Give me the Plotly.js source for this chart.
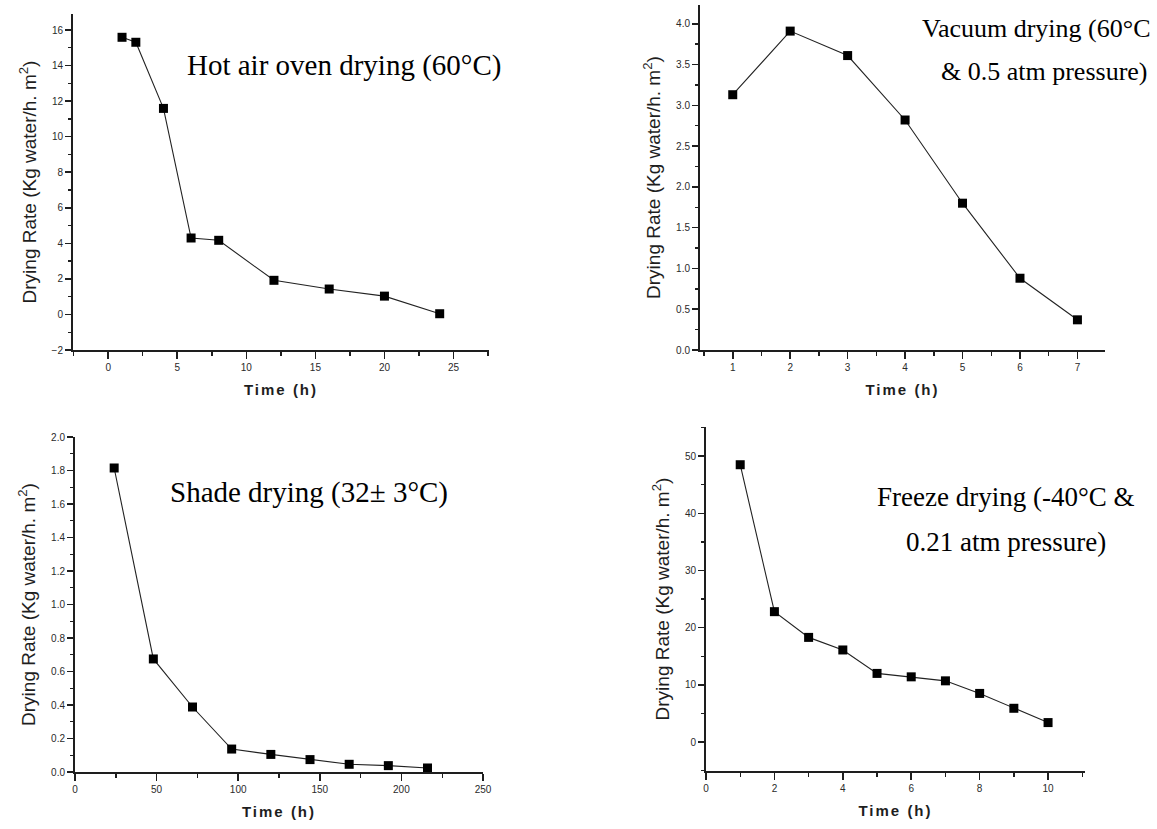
<!DOCTYPE html>
<html>
<head>
<meta charset="utf-8">
<script src="https://cdn.plot.ly/plotly-3.0.1.min.js"></script>
<style>
  html, body { margin: 0; padding: 0; background: #fff; }
  #chart { width: 1157px; height: 829px; }
  text.xtitle, text.x2title, text.x3title, text.x4title { letter-spacing: 2px; }
</style>
</head>
<body>
<div id="chart"></div>
<script>
// ---- Data ----
const hotTime = [1, 2, 4, 6, 8, 12, 16, 20, 24];
const hotRate = [15.59, 15.31, 11.59, 4.30, 4.17, 1.92, 1.43, 1.03, 0.04];

const vacuumTime = [1, 2, 3, 4, 5, 6, 7];
const vacuumRate = [3.13, 3.91, 3.61, 2.82, 1.80, 0.88, 0.37];

const shadeTime = [24, 48, 72, 96, 120, 144, 168, 192, 216];
const shadeRate = [1.815, 0.675, 0.388, 0.137, 0.105, 0.074, 0.046, 0.038, 0.024];

const freezeTime = [1, 2, 3, 4, 5, 6, 7, 8, 9, 10];
const freezeRate = [48.5, 22.8, 18.3, 16.1, 12.0, 11.4, 10.7, 8.5, 5.9, 3.4];

const panelLabels = [
  ["Hot air oven drying (60°C)"],
  ["Vacuum drying (60°C", "& 0.5 atm pressure)"],
  ["Shade drying (32± 3°C)"],
  ["Freeze drying (-40°C &", "0.21 atm pressure)"]
];
const xTitle = "Time (h)";
const yTitle = "Drying Rate (Kg water/h. m<sup>2</sup>)";

// ---- Styling ----
const W = 1157, H = 829;
const sans = "Liberation Sans, Arial, sans-serif";
const serif = "Liberation Serif, Times New Roman, serif";
const ink = "#1e1e1e";

function trace(x, y, ax) {
  return {
    x: x, y: y, xaxis: "x" + ax, yaxis: "y" + ax,
    type: "scatter", mode: "lines+markers",
    line: { color: "#222", width: 1.1 },
    marker: { symbol: "square", size: 9, color: "#000" },
    showlegend: false, hoverinfo: "x+y"
  };
}

function xAxis(domain, range, dtick, anchor, standoff) {
  return {
    domain: domain, range: range, anchor: anchor,
    showgrid: false, zeroline: false,
    showline: true, linecolor: ink, linewidth: 2,
    ticks: "outside", ticklen: 7, tickwidth: 1.6, tickcolor: ink,
    dtick: dtick, tick0: 0,
    minor: { ticks: "outside", ticklen: 4, tickwidth: 1.4, tickcolor: ink, dtick: dtick / 2, tick0: 0 },
    tickfont: { family: sans, size: 10, color: "#2a2a2a" },
    title: { text: xTitle, font: { family: sans, size: 15, color: ink, weight: "bold" }, standoff: standoff }
  };
}

function yAxis(domain, range, dtick, anchor, fmt, standoff) {
  return {
    domain: domain, range: range, anchor: anchor,
    showgrid: false, zeroline: false,
    showline: true, linecolor: ink, linewidth: 2,
    ticks: "outside", ticklen: 6, tickwidth: 1.6, tickcolor: ink,
    dtick: dtick, tick0: 0, tickformat: fmt,
    minor: { ticks: "outside", ticklen: 3, tickwidth: 1.4, tickcolor: ink, dtick: dtick / 2, tick0: 0 },
    tickfont: { family: sans, size: 10, color: "#2a2a2a" },
    title: { text: yTitle, font: { family: sans, size: 19, color: ink }, standoff: standoff }
  };
}

function px(x) { return x / W; }
function py(y) { return 1 - y / H; }

const data = [
  trace(hotTime, hotRate, ""),
  trace(vacuumTime, vacuumRate, "2"),
  trace(shadeTime, shadeRate, "3"),
  trace(freezeTime, freezeRate, "4")
];
data[0].xaxis = "x"; data[0].yaxis = "y";

function label(text, x, y, size, xanchor) {
  return {
    text: text, xref: "paper", yref: "paper", x: px(x), y: py(y),
    xanchor: xanchor, yanchor: "middle", showarrow: false,
    font: { family: serif, size: size, color: "#000" }
  };
}

const layout = {
  width: W, height: H,
  margin: { l: 0, r: 0, t: 0, b: 0 },
  paper_bgcolor: "#fff", plot_bgcolor: "#fff",
  xaxis:  xAxis([px(73), px(489)],  [-2.55, 27.57], 5,   "y",  12),
  yaxis:  yAxis([py(350), py(14)],  [-2, 16.9],     2,   "x",  "d",   10),
  xaxis2: xAxis([px(700), px(1105)], [0.43, 7.48],  1,   "y2", 12),
  yaxis2: yAxis([py(350), py(5)],   [0, 4.23],      0.5, "x2", ".1f", 10),
  xaxis3: xAxis([px(75), px(483)],  [0, 250],       50,  "y3", 12),
  yaxis3: yAxis([py(772), py(437)], [0, 2],         0.2, "x3", ".1f", 10),
  xaxis4: xAxis([px(706), px(1085)], [0, 11.08],    2,   "y4", 12),
  yaxis4: yAxis([py(771), py(427)], [-5.07, 55.1],  10,  "x4", "d",   10),
  annotations: [
    label(panelLabels[0][0], 185, 65, 29, "left"),
    label(panelLabels[1][0], 1036, 28, 26, "center"),
    label(panelLabels[1][1], 1044, 72, 26, "center"),
    label(panelLabels[2][0], 168, 492, 29, "left"),
    label(panelLabels[3][0], 1005, 497, 27, "center"),
    label(panelLabels[3][1], 1006, 542, 27, "center")
  ]
};

Plotly.newPlot("chart", data, layout, { displayModeBar: false, staticPlot: true });
</script>
</body>
</html>
